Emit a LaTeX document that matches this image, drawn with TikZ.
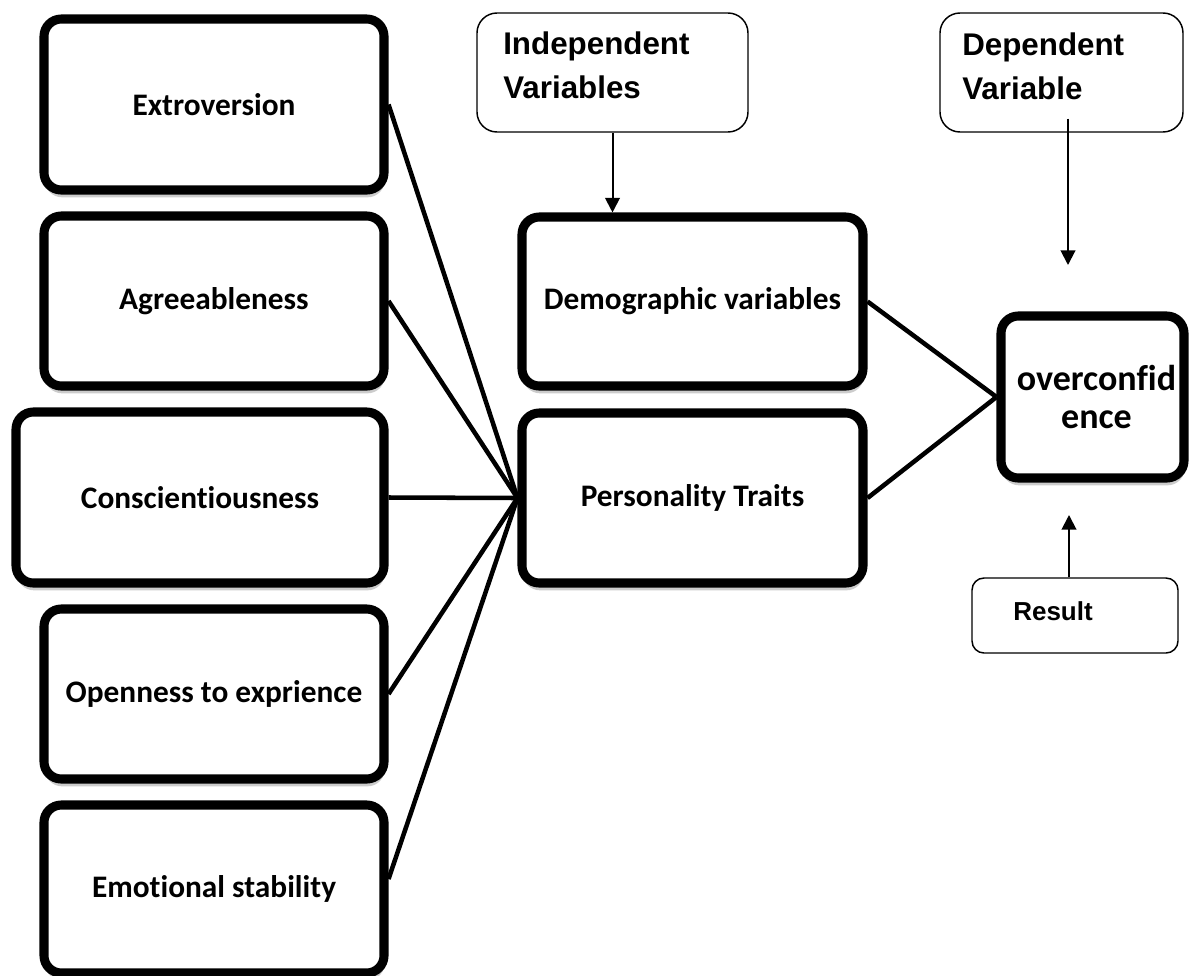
\documentclass[tikz,border=0pt]{standalone}
\usepackage{fontspec}
\newfontfamily\calfont{Carlito}[Ligatures=NoCommon]
\newfontfamily\arialfont{Liberation Sans}
\usetikzlibrary{arrows.meta,shadows}
\begin{document}
\begin{tikzpicture}[x=0.75pt,y=-0.75pt,
  thickbox/.style={draw=black, line width=6.8pt, rounded corners=13pt, fill=white, inner sep=0pt, align=center,
     font=\calfont\bfseries\fontsize{23.5pt}{28pt}\selectfont,
     drop shadow={shadow xshift=0.6pt, shadow yshift=-5.5pt, opacity=0.2, fill=black}},
  thinbox/.style={draw=black, line width=1.1pt, rounded corners=15pt, fill=white, inner sep=0pt},
  link/.style={line width=3.4pt},
  arr/.style={line width=1.5pt, -{Triangle[width=11pt,length=11pt]}},
  lbl/.style={anchor=north west, inner sep=0pt, align=left, font=\arialfont\bfseries\fontsize{23.5pt}{33pt}\selectfont}
]
\useasboundingbox (0,0) rectangle (1189,975);
% left column
\node[thickbox, minimum width=255pt, minimum height=128.25pt] (ext) at (214,104.5) {Extroversion};
\node[thickbox, minimum width=255pt, minimum height=127.5pt] (agr) at (214,301) {Agreeableness};
\node[thickbox, minimum width=276pt, minimum height=128.25pt] (con) at (200,497.5) {Conscientiousness};
\node[thickbox, minimum width=255pt, minimum height=127.5pt] (ope) at (214,694) {Openness to exprience};
\node[thickbox, minimum width=255pt, minimum height=126pt] (emo) at (214,889) {Emotional stability};
% middle column
\node[thickbox, minimum width=255.75pt, minimum height=126.75pt] (dem) at (692.5,301.5) {Demographic variables};
\node[thickbox, minimum width=255.75pt, minimum height=127.5pt] (per) at (692.5,498) {Personality Traits};
% right
\node[thickbox, minimum width=137.25pt, minimum height=121.5pt, font=\calfont\bfseries\fontsize{27pt}{28.5pt}\selectfont] (ovc) at (1092.5,397) {\hspace*{6pt}overconfid\\\hspace*{6pt}ence};
% thin label boxes
\node[thinbox, minimum width=203.25pt, minimum height=89.25pt] (ind) at (612.5,72.5) {};
\node[lbl] (indtxt) at (503,32) {Independent\\Variables};
\node[thinbox, minimum width=182.25pt, minimum height=89.25pt] (dep) at (1061.5,72.5) {};
\node[lbl] (deptxt) at (962,33) {Dependent\\Variable};
\node[thinbox, rounded corners=9pt, minimum width=154.5pt, minimum height=56.25pt] (res) at (1075,615.5) {};
\node[lbl, font=\arialfont\bfseries\fontsize{19.5pt}{23pt}\selectfont] (restxt) at (1013,601) {Result};
% connectors
\draw[link] (ext.east) -- (per.west);
\draw[link] (agr.east) -- (per.west);
\draw[link] (con.east) -- (per.west);
\draw[link] (ope.east) -- (per.west);
\draw[link] ([yshift=7.5pt]emo.east) -- (per.west);
\draw[link] (dem.east) -- (ovc.west);
\draw[link] (per.east) -- (ovc.west);
% arrows
\draw[arr] (ind.south) -- (ind.south |- dem.north);
\coordinate (depend) at (1068,265);
\draw[arr] (depend |- dep.south) ++(0,-14) -- (depend);
\coordinate (resup) at (1069,515);
\draw[arr] (resup |- res.north) -- (resup);
\end{tikzpicture}
\end{document}
